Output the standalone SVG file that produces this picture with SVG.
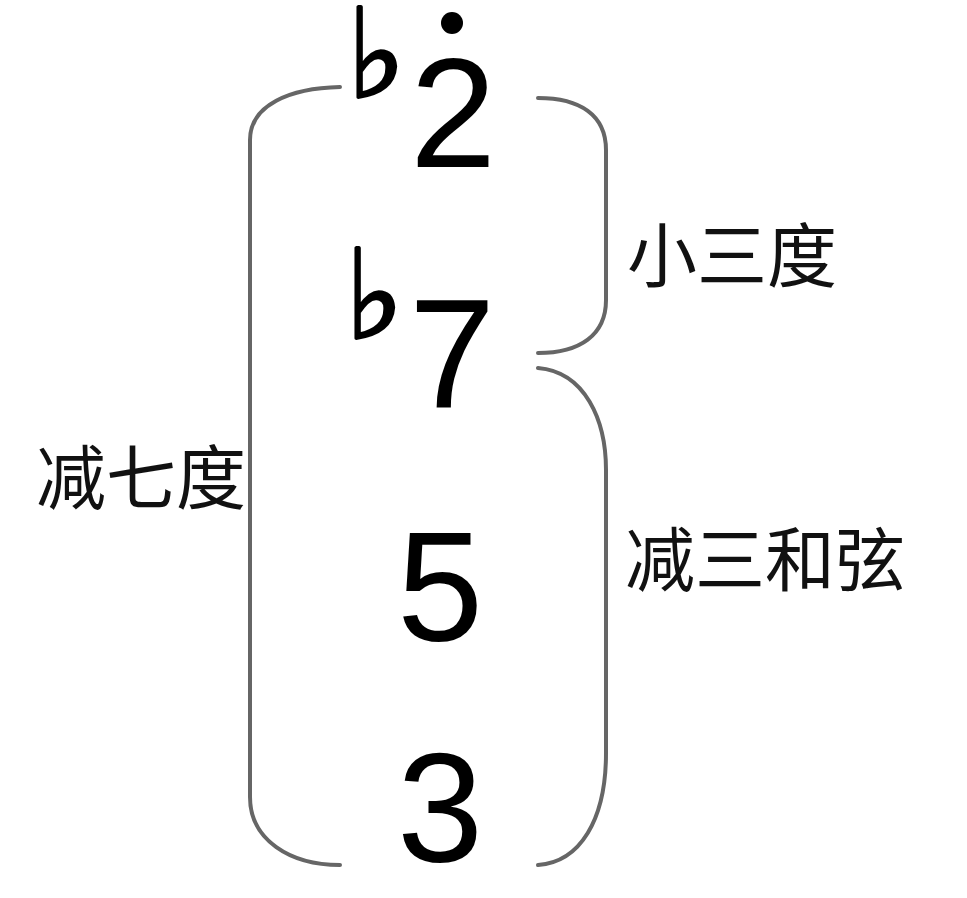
<svg xmlns="http://www.w3.org/2000/svg" width="967" height="898" viewBox="0 0 967 898">
<style>
.br{fill:none;stroke:#666;stroke-width:4;stroke-linecap:round}
.dg{font-family:"Liberation Sans",Arial,sans-serif;font-size:155px;fill:#000;text-anchor:middle}
.fl{font-family:"DejaVu Sans",sans-serif;font-size:124px;fill:#000;stroke:#000;stroke-width:3;stroke-linejoin:round}
.lb{font-family:"Noto Sans CJK SC","Noto Sans",sans-serif;font-size:70px;fill:#111}
</style>
<rect width="967" height="898" fill="#fff"/>
<g id="connectors">
<path class="br" d="M340,87 C290,88 250,105 250,140 L250,797 C250,840 290,865 340,865"/>
<path class="br" d="M538,98 C580,98 606,115 606,150 L606,300 C606,335 580,353 538,353"/>
<path class="br" d="M538,368 C585,372 606,420 606,470 L606,753 C606,820 580,862 538,865"/>
</g>
<g id="note-2">
<circle cx="452" cy="23" r="11" fill="#000"/>
<text class="fl" x="347" y="97">♭</text>
<text class="dg" x="453" y="167">2</text>
</g>
<g id="note-7">
<text class="fl" x="345" y="338">♭</text>
<text class="dg" x="452" y="408">7</text>
</g>
<g id="note-5"><text class="dg" x="440" y="640">5</text></g>
<g id="note-3"><text class="dg" x="440" y="861">3</text></g>
<g id="label-minor-third"><text class="lb" x="627" y="282">小三度</text></g>
<g id="label-dim-seventh"><text class="lb" x="36" y="504">减七度</text></g>
<g id="label-dim-triad"><text class="lb" x="625" y="586">减三和弦</text></g>
</svg>
